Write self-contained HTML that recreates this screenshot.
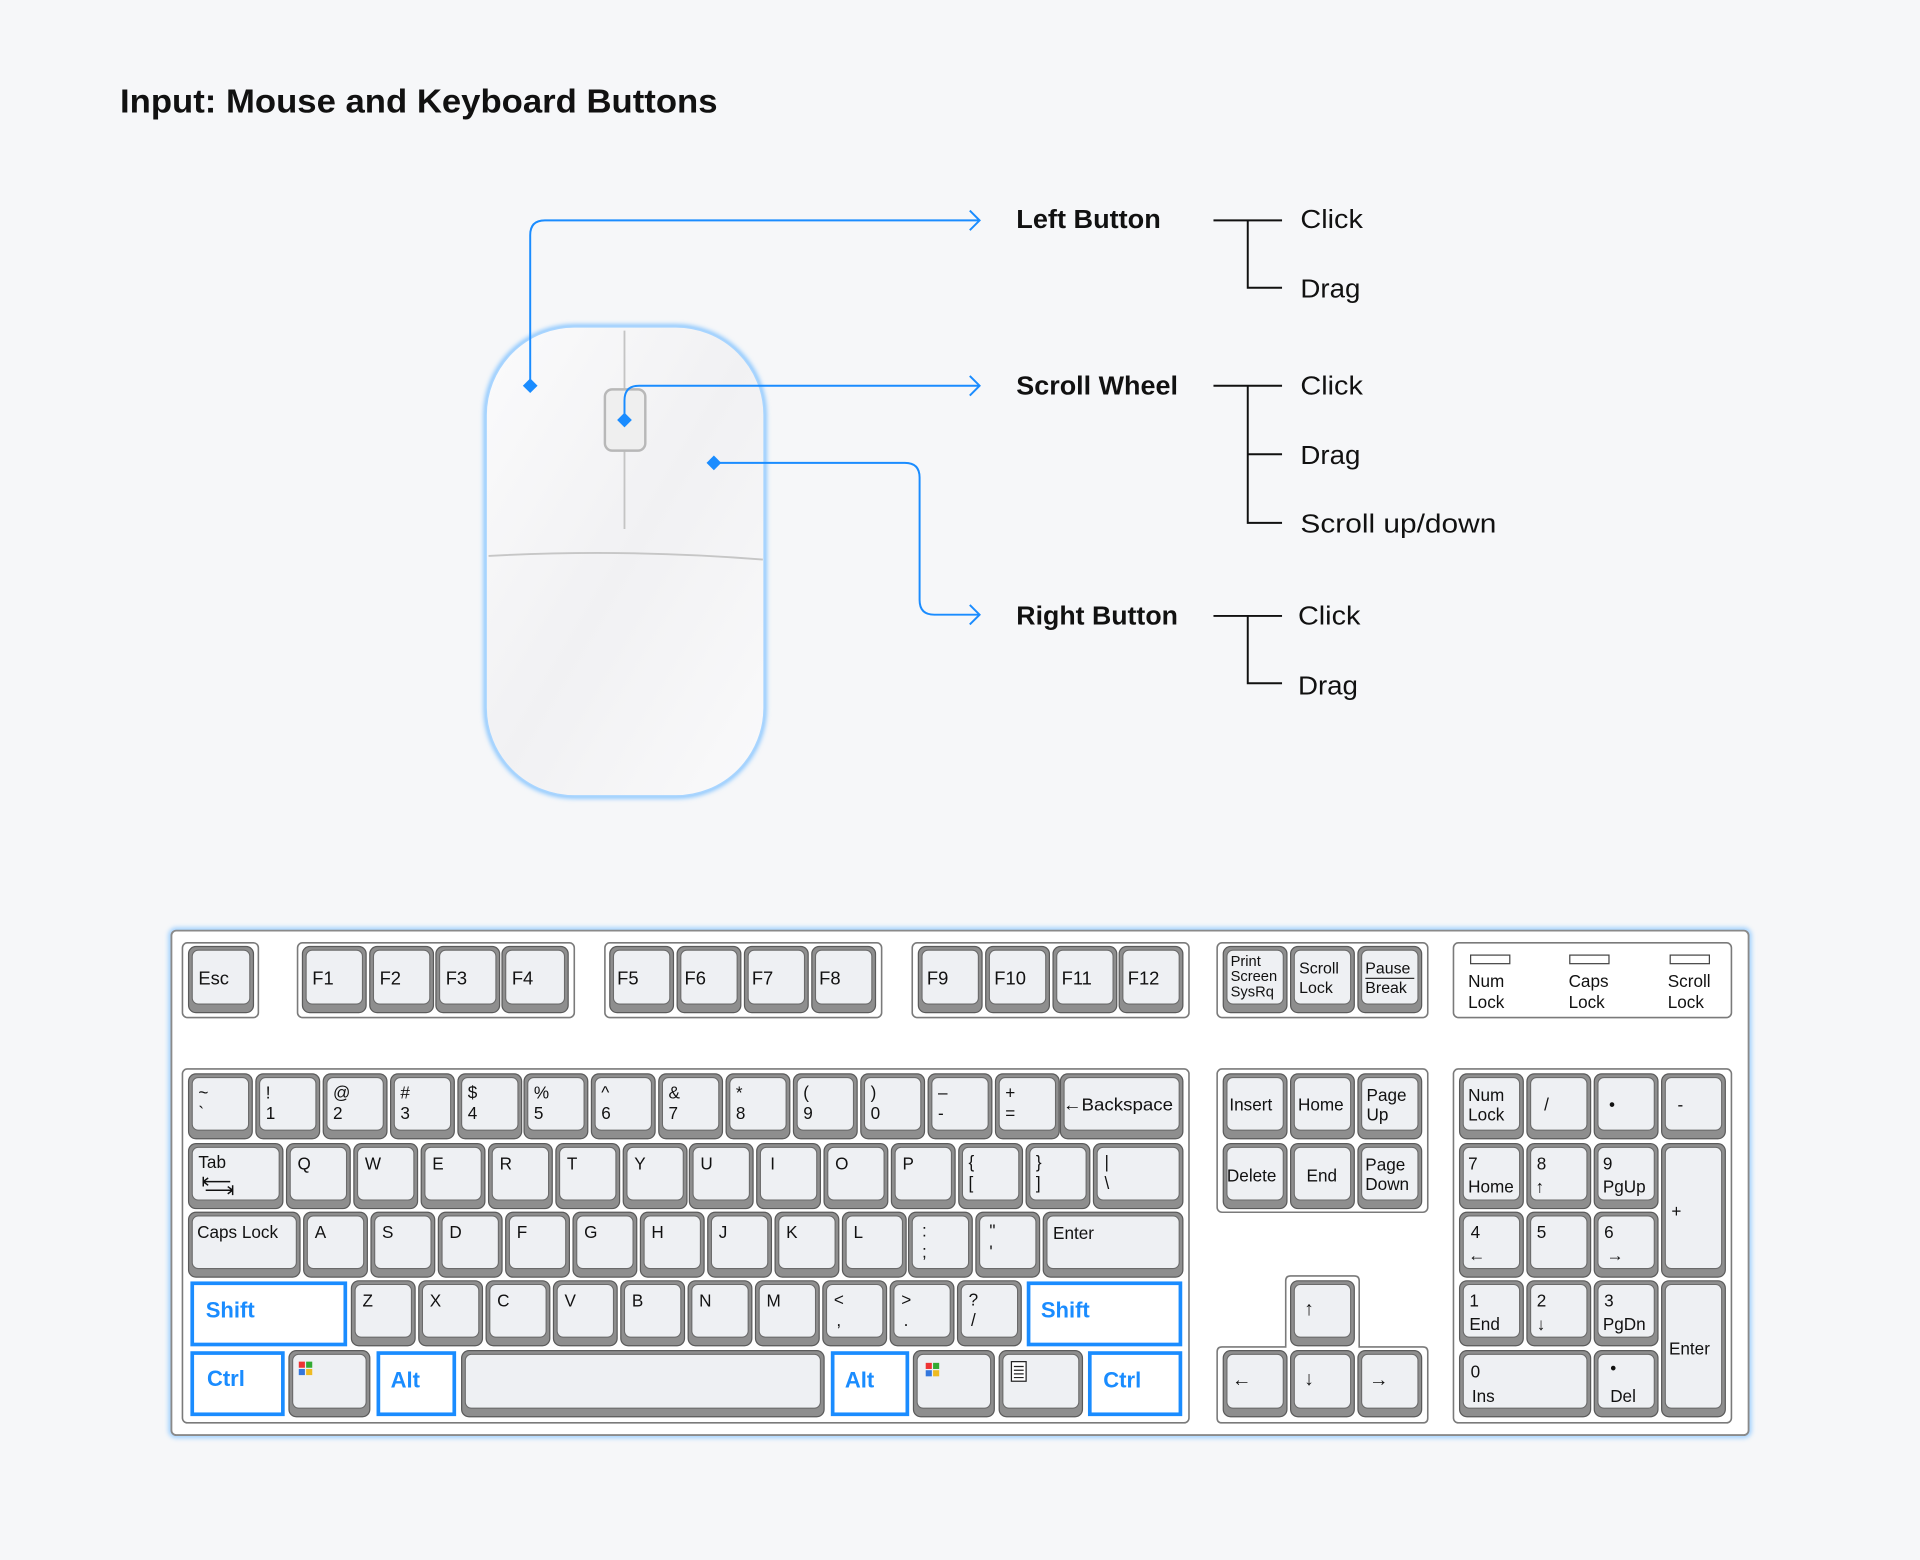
<!DOCTYPE html>
<html><head><meta charset="utf-8"><style>
html,body{margin:0;padding:0;background:#f6f7f9;}
svg{display:block}
.o{fill:#8e8e8e;stroke:#5a5a5a;stroke-width:1}
.i{fill:#eef0f3;stroke:#6a6a6a;stroke-width:.9}
.g{fill:#fff;stroke:#7a7a7a;stroke-width:1.3}
.b{fill:#fff;stroke:#1a8cff;stroke-width:3}
.k{font-family:"Liberation Sans",Arial,sans-serif;font-size:14px;fill:#111}
.s{font-size:12px}
.bt{font-family:"Liberation Sans",Arial,sans-serif;font-size:18px;font-weight:bold;fill:#1a8cff}
.lab{font-family:"Liberation Sans",Arial,sans-serif;font-size:21px;font-weight:bold;fill:#111}
.it{font-family:"Liberation Sans",Arial,sans-serif;font-size:21px;fill:#111}
</style></head><body>
<svg width="1920" height="1560" viewBox="0 0 1568 1274" xmlns="http://www.w3.org/2000/svg">
<defs>
<linearGradient id="mg" x1="0" y1="0" x2="1" y2="1"><stop offset="0" stop-color="#fbfbfc"/><stop offset=".5" stop-color="#f1f1f3"/><stop offset="1" stop-color="#fafafb"/></linearGradient>
<filter id="bl"><feGaussianBlur stdDeviation="2"/></filter>
</defs>
<rect width="1568" height="1274" fill="#f6f7f9"/>
<text x="98" y="92" font-family="Liberation Sans,Arial,sans-serif" font-size="27" font-weight="bold" fill="#111" textLength="488" lengthAdjust="spacingAndGlyphs">Input: Mouse and Keyboard Buttons</text>

<!-- mouse -->
<rect x="397" y="267" width="227" height="383" rx="72" ry="72" fill="none" stroke="#7cc0ff" stroke-width="4" filter="url(#bl)"/>
<rect x="397" y="267" width="227" height="383" rx="72" ry="72" fill="url(#mg)" stroke="#a9d5ff" stroke-width="1.2"/>
<line x1="510" y1="270" x2="510" y2="432" stroke="#c4c4c4" stroke-width="1.5"/>
<path d="M399,454 Q510,448 623,457" fill="none" stroke="#c6c6c6" stroke-width="1.5"/>
<rect x="494" y="318" width="33" height="50" rx="6" fill="#efefef" stroke="#b8b8b8" stroke-width="2"/>

<!-- connectors -->
<g fill="none" stroke="#1a8cff" stroke-width="1.6">
<path d="M433,315 V192 Q433,180 445,180 H800"/>
<path d="M510,343 V327 Q510,315 522,315 H800"/>
<path d="M583,378 H739 Q751,378 751,390 V490 Q751,502 763,502 H800"/>
<path d="M792,172 L800,180 L792,188 M792,307 L800,315 L792,323 M792,494 L800,502 L792,510"/>
</g>
<g fill="#1a8cff">
<path d="M433,309 l6,6 l-6,6 l-6,-6z"/>
<path d="M510,337 l6,6 l-6,6 l-6,-6z"/>
<path d="M583,372 l6,6 l-6,6 l-6,-6z"/>
</g>

<text class="lab" x="830" y="186" textLength="118" lengthAdjust="spacingAndGlyphs">Left Button</text>
<text class="lab" x="830" y="322" textLength="132" lengthAdjust="spacingAndGlyphs">Scroll Wheel</text>
<text class="lab" x="830" y="510" textLength="132" lengthAdjust="spacingAndGlyphs">Right Button</text>
<g fill="none" stroke="#111" stroke-width="1.6">
<path d="M991,180 H1047 M1019,180 V235 H1047"/>
<path d="M991,315 H1047 M1019,315 V427 H1047 M1019,371 H1047"/>
<path d="M991,503 H1047 M1019,503 V558 H1047"/>
</g>
<text class="it" x="1062" y="186" textLength="51" lengthAdjust="spacingAndGlyphs">Click</text>
<text class="it" x="1062" y="243" textLength="49" lengthAdjust="spacingAndGlyphs">Drag</text>
<text class="it" x="1062" y="322" textLength="51" lengthAdjust="spacingAndGlyphs">Click</text>
<text class="it" x="1062" y="379" textLength="49" lengthAdjust="spacingAndGlyphs">Drag</text>
<text class="it" x="1062" y="435" textLength="160" lengthAdjust="spacingAndGlyphs">Scroll up/down</text>
<text class="it" x="1060" y="510" textLength="51" lengthAdjust="spacingAndGlyphs">Click</text>
<text class="it" x="1060" y="567" textLength="49" lengthAdjust="spacingAndGlyphs">Drag</text>

<!-- keyboard -->
<rect x="140" y="760" width="1288" height="412" rx="4" fill="none" stroke="#9fd0ff" stroke-width="5" filter="url(#bl)"/>
<rect x="140" y="760" width="1288" height="412" rx="4" fill="#fff" stroke="#8a8a8a" stroke-width="1.5"/>
<rect class="g" x="149" y="770" width="62" height="61" rx="4"/>
<rect class="g" x="243" y="770" width="226" height="61" rx="4"/>
<rect class="g" x="494" y="770" width="226" height="61" rx="4"/>
<rect class="g" x="745" y="770" width="226" height="61" rx="4"/>
<rect class="g" x="994" y="770" width="172" height="61" rx="4"/>
<rect class="g" x="1187" y="770" width="227" height="61" rx="4"/>
<rect class="g" x="149" y="873" width="822" height="289" rx="4"/>
<rect class="g" x="994" y="873" width="172" height="117" rx="4"/>
<path class="g" d="M1050,1100 V1046 Q1050,1042 1054,1042 H1106 Q1110,1042 1110,1046 V1100 H1162 Q1166,1100 1166,1104 V1158 Q1166,1162 1162,1162 H998 Q994,1162 994,1158 V1104 Q994,1100 998,1100 Z"/>
<rect class="g" x="1187" y="873" width="227" height="289" rx="4"/>

<g class="k">
<g transform="translate(154,773)"><rect class="o" width="53" height="54" rx="6"/><rect class="i" x="3" y="3" width="47" height="44" rx="5"/><text x="8" y="31" font-size="15">Esc</text></g>
<g transform="translate(247,773)"><rect class="o" width="52" height="54" rx="6"/><rect class="i" x="3" y="3" width="46" height="44" rx="5"/><text x="8" y="31" font-size="15">F1</text></g>
<g transform="translate(302,773)"><rect class="o" width="52" height="54" rx="6"/><rect class="i" x="3" y="3" width="46" height="44" rx="5"/><text x="8" y="31" font-size="15">F2</text></g>
<g transform="translate(356,773)"><rect class="o" width="52" height="54" rx="6"/><rect class="i" x="3" y="3" width="46" height="44" rx="5"/><text x="8" y="31" font-size="15">F3</text></g>
<g transform="translate(410,773)"><rect class="o" width="54" height="54" rx="6"/><rect class="i" x="3" y="3" width="48" height="44" rx="5"/><text x="8" y="31" font-size="15">F4</text></g>
<g transform="translate(498,773)"><rect class="o" width="52" height="54" rx="6"/><rect class="i" x="3" y="3" width="46" height="44" rx="5"/><text x="6" y="31" font-size="15">F5</text></g>
<g transform="translate(553,773)"><rect class="o" width="52" height="54" rx="6"/><rect class="i" x="3" y="3" width="46" height="44" rx="5"/><text x="6" y="31" font-size="15">F6</text></g>
<g transform="translate(608,773)"><rect class="o" width="52" height="54" rx="6"/><rect class="i" x="3" y="3" width="46" height="44" rx="5"/><text x="6" y="31" font-size="15">F7</text></g>
<g transform="translate(663,773)"><rect class="o" width="52" height="54" rx="6"/><rect class="i" x="3" y="3" width="46" height="44" rx="5"/><text x="6" y="31" font-size="15">F8</text></g>
<g transform="translate(750,773)"><rect class="o" width="52" height="54" rx="6"/><rect class="i" x="3" y="3" width="46" height="44" rx="5"/><text x="7" y="31" font-size="15">F9</text></g>
<g transform="translate(805,773)"><rect class="o" width="52" height="54" rx="6"/><rect class="i" x="3" y="3" width="46" height="44" rx="5"/><text x="7" y="31" font-size="15">F10</text></g>
<g transform="translate(860,773)"><rect class="o" width="52" height="54" rx="6"/><rect class="i" x="3" y="3" width="46" height="44" rx="5"/><text x="7" y="31" font-size="15">F11</text></g>
<g transform="translate(914,773)"><rect class="o" width="52" height="54" rx="6"/><rect class="i" x="3" y="3" width="46" height="44" rx="5"/><text x="7" y="31" font-size="15">F12</text></g>
<g transform="translate(999,773)"><rect class="o" width="52" height="54" rx="6"/><rect class="i" x="3" y="3" width="46" height="44" rx="5"/><text class="s" x="6" y="16">Print</text><text class="s" x="6" y="28">Screen</text><text class="s" x="6" y="41">SysRq</text></g>
<g transform="translate(1054,773)"><rect class="o" width="52" height="54" rx="6"/><rect class="i" x="3" y="3" width="46" height="44" rx="5"/><text x="7" y="22" font-size="13">Scroll</text><text x="7" y="38" font-size="13">Lock</text></g>
<g transform="translate(1109,773)"><rect class="o" width="52" height="54" rx="6"/><rect class="i" x="3" y="3" width="46" height="44" rx="5"/><text x="6" y="22" font-size="13">Pause</text><line x1="6" y1="26" x2="46" y2="26" stroke="#333"/><text x="6" y="38" font-size="13">Break</text></g>
<rect x="1201" y="780" width="32" height="7" fill="#fff" stroke="#444"/>
<rect x="1282" y="780" width="32" height="7" fill="#fff" stroke="#444"/>
<rect x="1364" y="780" width="32" height="7" fill="#fff" stroke="#444"/>
<text x="1199" y="806">Num</text><text x="1199" y="823">Lock</text>
<text x="1281" y="806">Caps</text><text x="1281" y="823">Lock</text>
<text x="1362" y="806">Scroll</text><text x="1362" y="823">Lock</text>

<g transform="translate(154,877)"><rect class="o" width="52" height="53" rx="6"/><rect class="i" x="3" y="3" width="46" height="43" rx="5"/><text x="8" y="20">~</text><text x="8" y="37">`</text></g>
<g transform="translate(209,877)"><rect class="o" width="52" height="53" rx="6"/><rect class="i" x="3" y="3" width="46" height="43" rx="5"/><text x="8" y="20">!</text><text x="8" y="37">1</text></g>
<g transform="translate(264,877)"><rect class="o" width="52" height="53" rx="6"/><rect class="i" x="3" y="3" width="46" height="43" rx="5"/><text x="8" y="20">@</text><text x="8" y="37">2</text></g>
<g transform="translate(319,877)"><rect class="o" width="52" height="53" rx="6"/><rect class="i" x="3" y="3" width="46" height="43" rx="5"/><text x="8" y="20">#</text><text x="8" y="37">3</text></g>
<g transform="translate(374,877)"><rect class="o" width="52" height="53" rx="6"/><rect class="i" x="3" y="3" width="46" height="43" rx="5"/><text x="8" y="20">$</text><text x="8" y="37">4</text></g>
<g transform="translate(428,877)"><rect class="o" width="52" height="53" rx="6"/><rect class="i" x="3" y="3" width="46" height="43" rx="5"/><text x="8" y="20">%</text><text x="8" y="37">5</text></g>
<g transform="translate(483,877)"><rect class="o" width="52" height="53" rx="6"/><rect class="i" x="3" y="3" width="46" height="43" rx="5"/><text x="8" y="20">^</text><text x="8" y="37">6</text></g>
<g transform="translate(538,877)"><rect class="o" width="52" height="53" rx="6"/><rect class="i" x="3" y="3" width="46" height="43" rx="5"/><text x="8" y="20">&amp;</text><text x="8" y="37">7</text></g>
<g transform="translate(593,877)"><rect class="o" width="52" height="53" rx="6"/><rect class="i" x="3" y="3" width="46" height="43" rx="5"/><text x="8" y="20">*</text><text x="8" y="37">8</text></g>
<g transform="translate(648,877)"><rect class="o" width="52" height="53" rx="6"/><rect class="i" x="3" y="3" width="46" height="43" rx="5"/><text x="8" y="20">(</text><text x="8" y="37">9</text></g>
<g transform="translate(703,877)"><rect class="o" width="52" height="53" rx="6"/><rect class="i" x="3" y="3" width="46" height="43" rx="5"/><text x="8" y="20">)</text><text x="8" y="37">0</text></g>
<g transform="translate(758,877)"><rect class="o" width="52" height="53" rx="6"/><rect class="i" x="3" y="3" width="46" height="43" rx="5"/><text x="8" y="20">–</text><text x="8" y="37">-</text></g>
<g transform="translate(813,877)"><rect class="o" width="52" height="53" rx="6"/><rect class="i" x="3" y="3" width="46" height="43" rx="5"/><text x="8" y="20">+</text><text x="8" y="37">=</text></g>
<g transform="translate(866,877)"><rect class="o" width="100" height="53" rx="6"/><rect class="i" x="3" y="3" width="94" height="43" rx="5"/><text x="2" y="30" textLength="90" lengthAdjust="spacingAndGlyphs">←Backspace</text></g>
<g transform="translate(154,934)"><rect class="o" width="77" height="53" rx="6"/><rect class="i" x="3" y="3" width="71" height="43" rx="5"/><text x="8" y="20">Tab</text><path d="M12,27 V35 M12,31 H34 M12,31 l4,-3 M12,31 l4,3 M36,34 V42 M14,38 H36 M36,38 l-4,-3 M36,38 l-4,3" stroke="#111" fill="none" stroke-width="1.2"/></g>
<g transform="translate(234,934)"><rect class="o" width="52" height="53" rx="6"/><rect class="i" x="3" y="3" width="46" height="43" rx="5"/><text x="9" y="21">Q</text></g>
<g transform="translate(289,934)"><rect class="o" width="52" height="53" rx="6"/><rect class="i" x="3" y="3" width="46" height="43" rx="5"/><text x="9" y="21">W</text></g>
<g transform="translate(344,934)"><rect class="o" width="52" height="53" rx="6"/><rect class="i" x="3" y="3" width="46" height="43" rx="5"/><text x="9" y="21">E</text></g>
<g transform="translate(399,934)"><rect class="o" width="52" height="53" rx="6"/><rect class="i" x="3" y="3" width="46" height="43" rx="5"/><text x="9" y="21">R</text></g>
<g transform="translate(454,934)"><rect class="o" width="52" height="53" rx="6"/><rect class="i" x="3" y="3" width="46" height="43" rx="5"/><text x="9" y="21">T</text></g>
<g transform="translate(509,934)"><rect class="o" width="52" height="53" rx="6"/><rect class="i" x="3" y="3" width="46" height="43" rx="5"/><text x="9" y="21">Y</text></g>
<g transform="translate(563,934)"><rect class="o" width="52" height="53" rx="6"/><rect class="i" x="3" y="3" width="46" height="43" rx="5"/><text x="9" y="21">U</text></g>
<g transform="translate(618,934)"><rect class="o" width="52" height="53" rx="6"/><rect class="i" x="3" y="3" width="46" height="43" rx="5"/><text x="11" y="21">I</text></g>
<g transform="translate(673,934)"><rect class="o" width="52" height="53" rx="6"/><rect class="i" x="3" y="3" width="46" height="43" rx="5"/><text x="9" y="21">O</text></g>
<g transform="translate(728,934)"><rect class="o" width="52" height="53" rx="6"/><rect class="i" x="3" y="3" width="46" height="43" rx="5"/><text x="9" y="21">P</text></g>
<g transform="translate(783,934)"><rect class="o" width="52" height="53" rx="6"/><rect class="i" x="3" y="3" width="46" height="43" rx="5"/><text x="8" y="20">{</text><text x="8" y="37">[</text></g>
<g transform="translate(838,934)"><rect class="o" width="52" height="53" rx="6"/><rect class="i" x="3" y="3" width="46" height="43" rx="5"/><text x="8" y="20">}</text><text x="8" y="37">]</text></g>
<g transform="translate(893,934)"><rect class="o" width="73" height="53" rx="6"/><rect class="i" x="3" y="3" width="67" height="43" rx="5"/><text x="9" y="20">|</text><text x="9" y="37">\</text></g>
<g transform="translate(154,990)"><rect class="o" width="91" height="53" rx="6"/><rect class="i" x="3" y="3" width="85" height="43" rx="5"/><text x="7" y="21">Caps Lock</text></g>
<g transform="translate(248,990)"><rect class="o" width="52" height="53" rx="6"/><rect class="i" x="3" y="3" width="46" height="43" rx="5"/><text x="9" y="21">A</text></g>
<g transform="translate(303,990)"><rect class="o" width="52" height="53" rx="6"/><rect class="i" x="3" y="3" width="46" height="43" rx="5"/><text x="9" y="21">S</text></g>
<g transform="translate(358,990)"><rect class="o" width="52" height="53" rx="6"/><rect class="i" x="3" y="3" width="46" height="43" rx="5"/><text x="9" y="21">D</text></g>
<g transform="translate(413,990)"><rect class="o" width="52" height="53" rx="6"/><rect class="i" x="3" y="3" width="46" height="43" rx="5"/><text x="9" y="21">F</text></g>
<g transform="translate(468,990)"><rect class="o" width="52" height="53" rx="6"/><rect class="i" x="3" y="3" width="46" height="43" rx="5"/><text x="9" y="21">G</text></g>
<g transform="translate(523,990)"><rect class="o" width="52" height="53" rx="6"/><rect class="i" x="3" y="3" width="46" height="43" rx="5"/><text x="9" y="21">H</text></g>
<g transform="translate(578,990)"><rect class="o" width="52" height="53" rx="6"/><rect class="i" x="3" y="3" width="46" height="43" rx="5"/><text x="9" y="21">J</text></g>
<g transform="translate(633,990)"><rect class="o" width="52" height="53" rx="6"/><rect class="i" x="3" y="3" width="46" height="43" rx="5"/><text x="9" y="21">K</text></g>
<g transform="translate(688,990)"><rect class="o" width="52" height="53" rx="6"/><rect class="i" x="3" y="3" width="46" height="43" rx="5"/><text x="9" y="21">L</text></g>
<g transform="translate(742,990)"><rect class="o" width="52" height="53" rx="6"/><rect class="i" x="3" y="3" width="46" height="43" rx="5"/><text x="11" y="20">:</text><text x="11" y="37">;</text></g>
<g transform="translate(797,990)"><rect class="o" width="52" height="53" rx="6"/><rect class="i" x="3" y="3" width="46" height="43" rx="5"/><text x="11" y="20">"</text><text x="11" y="37">'</text></g>
<g transform="translate(852,990)"><rect class="o" width="114" height="53" rx="6"/><rect class="i" x="3" y="3" width="108" height="43" rx="5"/><text x="8" y="22">Enter</text></g>
<rect class="b" x="157" y="1048" width="125" height="50"/><text class="bt" x="168" y="1076">Shift</text>
<g transform="translate(287,1046)"><rect class="o" width="52" height="53" rx="6"/><rect class="i" x="3" y="3" width="46" height="43" rx="5"/><text x="9" y="21">Z</text></g>
<g transform="translate(342,1046)"><rect class="o" width="52" height="53" rx="6"/><rect class="i" x="3" y="3" width="46" height="43" rx="5"/><text x="9" y="21">X</text></g>
<g transform="translate(397,1046)"><rect class="o" width="52" height="53" rx="6"/><rect class="i" x="3" y="3" width="46" height="43" rx="5"/><text x="9" y="21">C</text></g>
<g transform="translate(452,1046)"><rect class="o" width="52" height="53" rx="6"/><rect class="i" x="3" y="3" width="46" height="43" rx="5"/><text x="9" y="21">V</text></g>
<g transform="translate(507,1046)"><rect class="o" width="52" height="53" rx="6"/><rect class="i" x="3" y="3" width="46" height="43" rx="5"/><text x="9" y="21">B</text></g>
<g transform="translate(562,1046)"><rect class="o" width="52" height="53" rx="6"/><rect class="i" x="3" y="3" width="46" height="43" rx="5"/><text x="9" y="21">N</text></g>
<g transform="translate(617,1046)"><rect class="o" width="52" height="53" rx="6"/><rect class="i" x="3" y="3" width="46" height="43" rx="5"/><text x="9" y="21">M</text></g>
<g transform="translate(672,1046)"><rect class="o" width="52" height="53" rx="6"/><rect class="i" x="3" y="3" width="46" height="43" rx="5"/><text x="9" y="20">&lt;</text><text x="11" y="37">,</text></g>
<g transform="translate(727,1046)"><rect class="o" width="52" height="53" rx="6"/><rect class="i" x="3" y="3" width="46" height="43" rx="5"/><text x="9" y="20">&gt;</text><text x="11" y="37">.</text></g>
<g transform="translate(782,1046)"><rect class="o" width="52" height="53" rx="6"/><rect class="i" x="3" y="3" width="46" height="43" rx="5"/><text x="9" y="20">?</text><text x="11" y="37">/</text></g>
<rect class="b" x="840" y="1048" width="124" height="50"/><text class="bt" x="850" y="1076">Shift</text>
<rect class="b" x="157" y="1105" width="74" height="50"/><text class="bt" x="169" y="1132">Ctrl</text>
<g transform="translate(236,1103)"><rect class="o" width="66" height="54" rx="6"/><rect class="i" x="3" y="3" width="60" height="44" rx="5"/><rect x="8" y="9" width="5" height="5" fill="#e33"/><rect x="14" y="9" width="5" height="5" fill="#3a3"/><rect x="8" y="15" width="5" height="5" fill="#37d"/><rect x="14" y="15" width="5" height="5" fill="#eb2"/></g>
<rect class="b" x="309" y="1105" width="62" height="50"/><text class="bt" x="319" y="1133">Alt</text>
<g transform="translate(377,1103)"><rect class="o" width="296" height="54" rx="6"/><rect class="i" x="3" y="3" width="290" height="44" rx="5"/></g>
<rect class="b" x="680" y="1105" width="61" height="50"/><text class="bt" x="690" y="1133">Alt</text>
<g transform="translate(746,1103)"><rect class="o" width="66" height="54" rx="6"/><rect class="i" x="3" y="3" width="60" height="44" rx="5"/><rect x="10" y="10" width="5" height="5" fill="#e33"/><rect x="16" y="10" width="5" height="5" fill="#3a3"/><rect x="10" y="16" width="5" height="5" fill="#37d"/><rect x="16" y="16" width="5" height="5" fill="#eb2"/></g>
<g transform="translate(816,1103)"><rect class="o" width="68" height="54" rx="6"/><rect class="i" x="3" y="3" width="62" height="44" rx="5"/><rect x="10" y="9" width="12" height="16" fill="#fff" stroke="#222"/><path d="M12,13 H20 M12,16 H20 M12,19 H20 M12,22 H20" stroke="#222"/></g>
<rect class="b" x="890" y="1105" width="74" height="50"/><text class="bt" x="901" y="1133">Ctrl</text>

<g transform="translate(999,877)"><rect class="o" width="52" height="53" rx="6"/><rect class="i" x="3" y="3" width="46" height="43" rx="5"/><text x="5" y="30">Insert</text></g>
<g transform="translate(1054,877)"><rect class="o" width="52" height="53" rx="6"/><rect class="i" x="3" y="3" width="46" height="43" rx="5"/><text x="6" y="30">Home</text></g>
<g transform="translate(1109,877)"><rect class="o" width="52" height="53" rx="6"/><rect class="i" x="3" y="3" width="46" height="43" rx="5"/><text x="7" y="22">Page</text><text x="7" y="38">Up</text></g>
<g transform="translate(999,934)"><rect class="o" width="52" height="53" rx="6"/><rect class="i" x="3" y="3" width="46" height="43" rx="5"/><text x="3" y="31">Delete</text></g>
<g transform="translate(1054,934)"><rect class="o" width="52" height="53" rx="6"/><rect class="i" x="3" y="3" width="46" height="43" rx="5"/><text x="13" y="31">End</text></g>
<g transform="translate(1109,934)"><rect class="o" width="52" height="53" rx="6"/><rect class="i" x="3" y="3" width="46" height="43" rx="5"/><text x="6" y="22">Page</text><text x="6" y="38">Down</text></g>
<g transform="translate(1054,1046)"><rect class="o" width="52" height="53" rx="6"/><rect class="i" x="3" y="3" width="46" height="43" rx="5"/><text x="11" y="28" font-size="16">↑</text></g>
<g transform="translate(999,1103)"><rect class="o" width="52" height="54" rx="6"/><rect class="i" x="3" y="3" width="46" height="44" rx="5"/><text x="7" y="29" font-size="16">←</text></g>
<g transform="translate(1054,1103)"><rect class="o" width="52" height="54" rx="6"/><rect class="i" x="3" y="3" width="46" height="44" rx="5"/><text x="11" y="28" font-size="16">↓</text></g>
<g transform="translate(1109,1103)"><rect class="o" width="52" height="54" rx="6"/><rect class="i" x="3" y="3" width="46" height="44" rx="5"/><text x="9" y="29" font-size="16">→</text></g>

<g transform="translate(1192,877)"><rect class="o" width="52" height="53" rx="6"/><rect class="i" x="3" y="3" width="46" height="43" rx="5"/><text x="7" y="22">Num</text><text x="7" y="38">Lock</text></g>
<g transform="translate(1247,877)"><rect class="o" width="52" height="53" rx="6"/><rect class="i" x="3" y="3" width="46" height="43" rx="5"/><text x="14" y="30">/</text></g>
<g transform="translate(1302,877)"><rect class="o" width="52" height="53" rx="6"/><rect class="i" x="3" y="3" width="46" height="43" rx="5"/><text x="12" y="30">•</text></g>
<g transform="translate(1357,877)"><rect class="o" width="52" height="53" rx="6"/><rect class="i" x="3" y="3" width="46" height="43" rx="5"/><text x="13" y="30">-</text></g>
<g transform="translate(1192,934)"><rect class="o" width="52" height="53" rx="6"/><rect class="i" x="3" y="3" width="46" height="43" rx="5"/><text x="7" y="21">7</text><text x="7" y="40">Home</text></g>
<g transform="translate(1247,934)"><rect class="o" width="52" height="53" rx="6"/><rect class="i" x="3" y="3" width="46" height="43" rx="5"/><text x="8" y="21">8</text><text x="7" y="40">↑</text></g>
<g transform="translate(1302,934)"><rect class="o" width="52" height="53" rx="6"/><rect class="i" x="3" y="3" width="46" height="43" rx="5"/><text x="7" y="21">9</text><text x="7" y="40">PgUp</text></g>
<g transform="translate(1357,934)"><rect class="o" width="52" height="109" rx="6"/><rect class="i" x="3" y="3" width="46" height="99" rx="5"/><text x="8" y="60">+</text></g>
<g transform="translate(1192,990)"><rect class="o" width="52" height="53" rx="6"/><rect class="i" x="3" y="3" width="46" height="43" rx="5"/><text x="9" y="21">4</text><text x="7" y="40">←</text></g>
<g transform="translate(1247,990)"><rect class="o" width="52" height="53" rx="6"/><rect class="i" x="3" y="3" width="46" height="43" rx="5"/><text x="8" y="21">5</text></g>
<g transform="translate(1302,990)"><rect class="o" width="52" height="53" rx="6"/><rect class="i" x="3" y="3" width="46" height="43" rx="5"/><text x="8" y="21">6</text><text x="10" y="40">→</text></g>
<g transform="translate(1192,1046)"><rect class="o" width="52" height="53" rx="6"/><rect class="i" x="3" y="3" width="46" height="43" rx="5"/><text x="8" y="21">1</text><text x="8" y="40">End</text></g>
<g transform="translate(1247,1046)"><rect class="o" width="52" height="53" rx="6"/><rect class="i" x="3" y="3" width="46" height="43" rx="5"/><text x="8" y="21">2</text><text x="8" y="40">↓</text></g>
<g transform="translate(1302,1046)"><rect class="o" width="52" height="53" rx="6"/><rect class="i" x="3" y="3" width="46" height="43" rx="5"/><text x="8" y="21">3</text><text x="7" y="40">PgDn</text></g>
<g transform="translate(1357,1046)"><rect class="o" width="52" height="111" rx="6"/><rect class="i" x="3" y="3" width="46" height="101" rx="5"/><text x="6" y="60">Enter</text></g>
<g transform="translate(1192,1103)"><rect class="o" width="107" height="54" rx="6"/><rect class="i" x="3" y="3" width="101" height="44" rx="5"/><text x="9" y="22">0</text><text x="10" y="42">Ins</text></g>
<g transform="translate(1302,1103)"><rect class="o" width="52" height="54" rx="6"/><rect class="i" x="3" y="3" width="46" height="44" rx="5"/><text x="13" y="19">•</text><text x="13" y="42">Del</text></g>
</g>
</svg>
</body></html>
